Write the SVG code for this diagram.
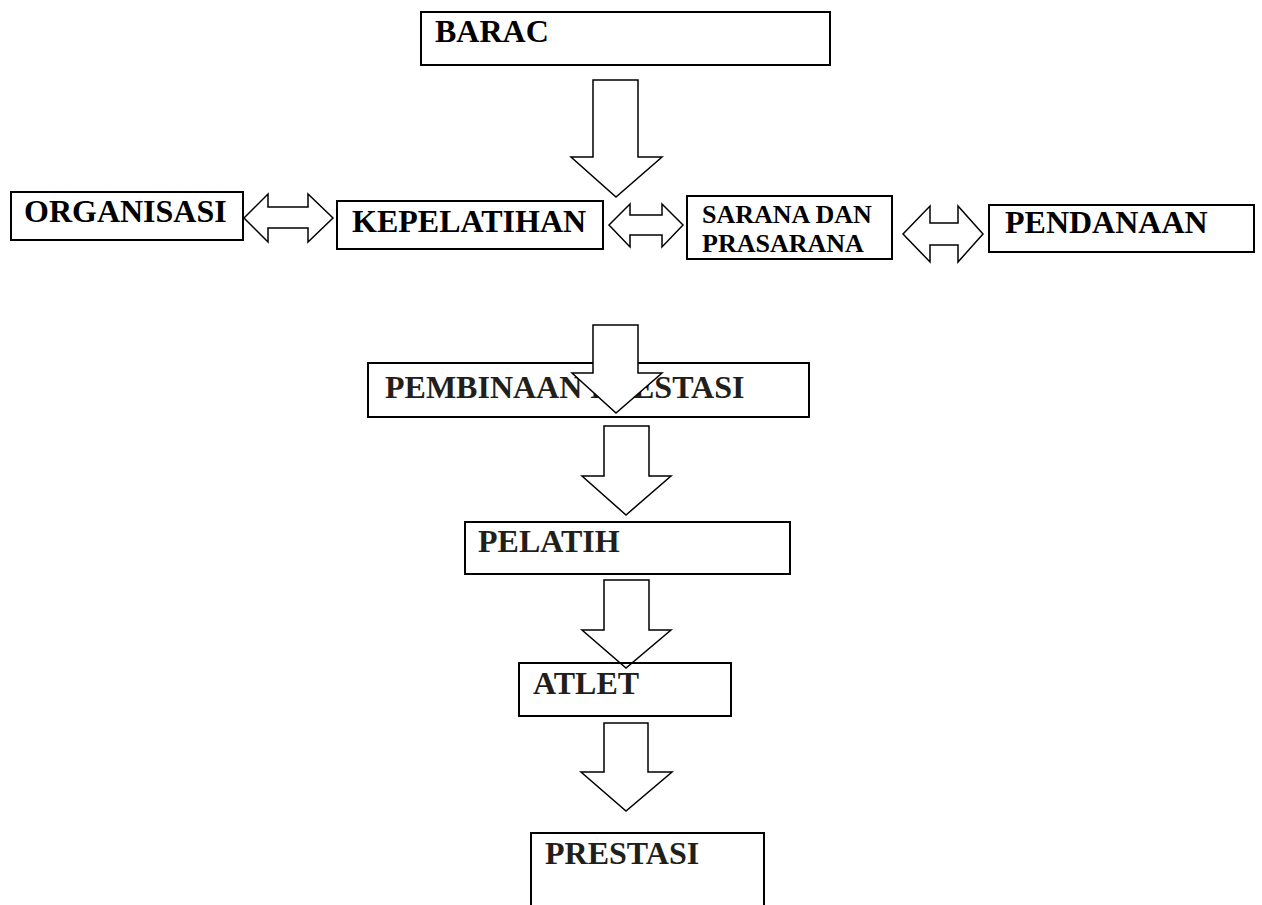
<svg xmlns="http://www.w3.org/2000/svg" width="1262" height="905" viewBox="0 0 1262 905">
<style>
.box{fill:#fff;stroke:#000;stroke-width:2}
.boxn{fill:none;stroke:#000;stroke-width:2}
.arr{fill:#fff;stroke:#000;stroke-width:1.5;stroke-linejoin:miter}
.t{font-family:"Liberation Serif","Times New Roman",serif;font-weight:bold;font-size:32px;fill:#000}
.d{fill:#221f1a}
.s{font-size:26px}
</style>
<rect width="1262" height="905" fill="#fff"/>
<g id="barac"><rect class="box" x="421" y="12" width="409" height="53"/><text class="t" x="435" y="42">BARAC</text></g>
<g id="organisasi"><rect class="box" x="11" y="192" width="232" height="48"/><text class="t" x="24" y="222">ORGANISASI</text></g>
<g id="kepelatihan"><rect class="box" x="337" y="201" width="266" height="48"/><text class="t" x="352" y="232">KEPELATIHAN</text></g>
<g id="sarana"><rect class="box" x="687" y="196" width="205" height="63"/><text class="t s" x="702" y="223">SARANA DAN</text><text class="t s" x="702" y="252">PRASARANA</text></g>
<g id="pendanaan"><rect class="box" x="989" y="205" width="265" height="47"/><text class="t" x="1005" y="233">PENDANAAN</text></g>
<g id="pembinaan"><rect class="box" x="368" y="363" width="441" height="54"/><text class="t d" x="385" y="398">PEMBINAAN PRESTASI</text></g>
<g id="pelatih"><rect class="box" x="465" y="522" width="325" height="52"/><text class="t d" x="478" y="552">PELATIH</text></g>
<g id="prestasi"><rect class="box" x="531" y="833" width="233" height="80"/><text class="t d" x="545" y="864">PRESTASI</text></g>
<g id="connectors">
<path class="arr" d="M593,80 H638 V157 H662 L616,197 L571,157 H593 Z"/>
<path class="arr" d="M244,218 L268,194 V207 H308 V194 L333,218 L308,242 V228 H268 V242 Z"/>
<path class="arr" d="M609,225 L630,204 V215 H662 V204 L683,225 L662,247 V235 H630 V247 Z"/>
<path class="arr" d="M903,234 L930,206 V223 H958 V206 L983,234 L958,262 V245 H930 V262 Z"/>
<path class="arr" d="M593,325 H638 V373 H662 L616,413 L572,373 H593 Z"/>
<path class="arr" d="M604,426 H649 V476 H671 L626,515 L582,476 H604 Z"/>
<path class="arr" d="M604,580 H649 V630 H671 L626,668 L582,630 H604 Z"/>
<path class="arr" d="M604,723 H648 V772 H672 L626,811 L581,772 H604 Z"/>
</g>
<g id="atlet"><rect class="boxn" x="519" y="663" width="212" height="53"/><text class="t d" x="533" y="694">ATLET</text></g>
</svg>
